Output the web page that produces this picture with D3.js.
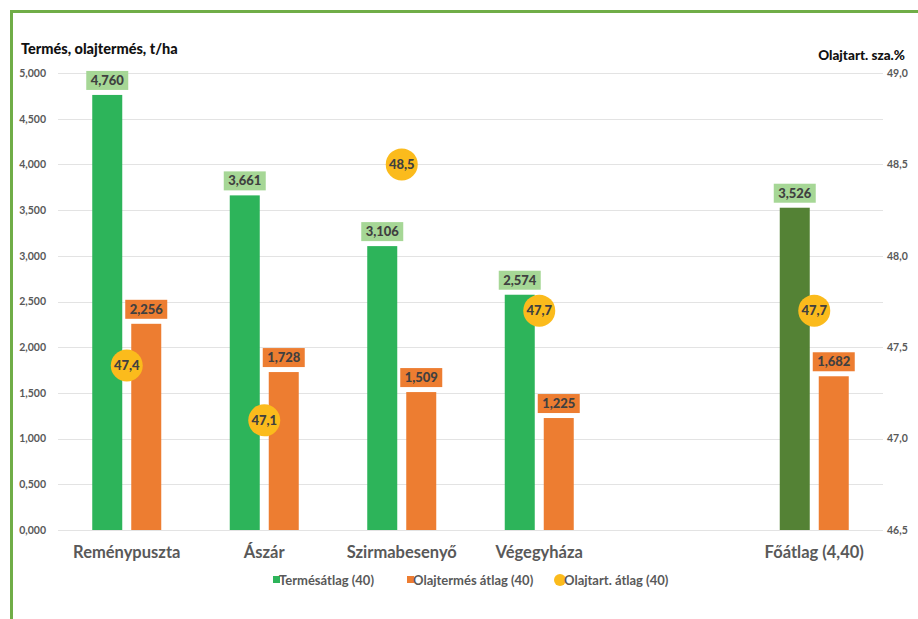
<!DOCTYPE html>
<html>
<head>
<meta charset="utf-8">
<script src="https://cdn.jsdelivr.net/npm/d3@7"></script>
<style>
  html, body { margin: 0; padding: 0; background: #fff; }
  svg { display: block; font-family: Lato, "Open Sans", sans-serif; }
</style>
</head>
<body>
<svg id="chart" width="918" height="619"></svg>
<script>
// Sites and the overall mean (an empty slot separates the mean from the sites)
const categories = ["Reménypuszta", "Ászár", "Szirmabesenyő", "Végegyháza", "Főátlag (4,40)"];
const slots = ["Reménypuszta", "Ászár", "Szirmabesenyő", "Végegyháza", "gap", "Főátlag (4,40)"];
// Seed yield, t/ha
const yieldAvg = [4.760, 3.661, 3.106, 2.574, 3.526];
// Oil yield, t/ha
const oilYieldAvg = [2.256, 1.728, 1.509, 1.225, 1.682];
// Oil content, %
const oilContentAvg = [47.4, 47.1, 48.5, 47.7, 47.7];

const leftTicks = [0, 0.5, 1, 1.5, 2, 2.5, 3, 3.5, 4, 4.5, 5];
const rightTicks = [46.5, 47.0, 47.5, 48.0, 48.5, 49.0];
const legendItems = ["Termésátlag (40)", "Olajtermés átlag (40)", "Olajtart. átlag (40)"];

const colGreen = "#2db45a", colGreenDark = "#548235", colOrange = "#ed7d31",
      colGold = "#fbbb1c", colLabelGreen = "#a6d796", textDark = "#404040", tickGrey = "#595959";

const svg = d3.select("#chart");
const plot = { left: 58, right: 883, top: 73, bottom: 530 };

const x = d3.scaleBand().domain(slots).range([plot.left, plot.right]);
const yL = d3.scaleLinear().domain([0, 5]).range([plot.bottom, plot.top]);
const yR = d3.scaleLinear().domain([46.5, 49]).range([plot.bottom, plot.top]);

const commaFmt = (d, p) => d.toFixed(p).replace(".", ",");
const thousandsFmt = d => d3.format(".3f")(d).replace(".", ",");

// frame
svg.append("path")
  .attr("d", "M11.5,619 L11.5,11.5 L918,11.5")
  .attr("fill", "none").attr("stroke", "#70ad47").attr("stroke-width", 3);

// gridlines
svg.append("g").selectAll("line").data(leftTicks).join("line")
  .attr("x1", plot.left).attr("x2", plot.right)
  .attr("y1", d => Math.round(yL(d)) + 0.5).attr("y2", d => Math.round(yL(d)) + 0.5)
  .attr("stroke", "#e3e3e3").attr("stroke-width", 1.2);

// left axis
const axL = d3.axisLeft(yL).tickValues(leftTicks).tickFormat(d => commaFmt(d, 3)).tickSize(0).tickPadding(12);
const gL = svg.append("g").attr("transform", `translate(${plot.left},0)`).call(axL);
gL.select(".domain").remove();
gL.selectAll("text").attr("font-size", 10.5).attr("font-weight", 700).attr("fill", tickGrey)
  .attr("font-family", "Lato, sans-serif");

// right axis
const axR = d3.axisRight(yR).tickValues(rightTicks).tickFormat(d => commaFmt(d, 1)).tickSize(0).tickPadding(4);
const gR = svg.append("g").attr("transform", `translate(${plot.right},0)`).call(axR);
gR.select(".domain").remove();
gR.selectAll("text").attr("font-size", 10.5).attr("font-weight", 700).attr("fill", tickGrey)
  .attr("font-family", "Lato, sans-serif");

// axis titles
svg.append("text").attr("x", 21).attr("y", 54).text("Termés, olajtermés, t/ha")
  .attr("font-size", 14.5).attr("font-weight", 900).attr("fill", "#111");
svg.append("text").attr("x", 905).attr("y", 60).attr("text-anchor", "end").text("Olajtart. sza.%")
  .attr("font-size", 13.5).attr("font-weight", 900).attr("fill", "#111");

// category labels
svg.append("g").selectAll("text").data(categories).join("text")
  .attr("x", d => x(d) + x.bandwidth() / 2).attr("y", 558)
  .attr("text-anchor", "middle").attr("font-size", 16.5).attr("font-weight", 700).attr("fill", tickGrey)
  .text(d => d);

const barW = 30, barOff = 19.5;
const rows = categories.map((c, i) => ({
  cat: c, yv: yieldAvg[i], ov: oilYieldAvg[i], oc: oilContentAvg[i], mean: i === categories.length - 1
}));
const cx = d => x(d.cat) + x.bandwidth() / 2;

// seed yield bars
svg.append("g").selectAll("rect").data(rows).join("rect")
  .attr("x", d => cx(d) - barOff - barW / 2).attr("width", barW)
  .attr("y", d => yL(d.yv)).attr("height", d => yL(0) - yL(d.yv))
  .attr("fill", d => d.mean ? colGreenDark : colGreen);

// oil yield bars
svg.append("g").selectAll("rect").data(rows).join("rect")
  .attr("x", d => cx(d) + barOff - barW / 2).attr("width", barW)
  .attr("y", d => yL(d.ov)).attr("height", d => yL(0) - yL(d.ov))
  .attr("fill", colOrange);

// value boxes
function valueLabels(getX, getV, fill) {
  const g = svg.append("g").selectAll("g").data(rows).join("g")
    .attr("transform", d => `translate(${getX(d)},${yL(getV(d)) - 5})`);
  g.append("rect").attr("x", -21).attr("y", -19).attr("width", 42).attr("height", 19).attr("fill", fill);
  g.append("text").attr("y", -5).attr("text-anchor", "middle").attr("font-size", 13)
    .attr("font-weight", 900).attr("fill", textDark).text(d => thousandsFmt(getV(d)));
}
valueLabels(d => cx(d) - barOff, d => d.yv, colLabelGreen);
valueLabels(d => cx(d) + barOff, d => d.ov, colOrange);

// oil content points
const dots = svg.append("g").selectAll("g").data(rows).join("g")
  .attr("transform", d => `translate(${cx(d)},${yR(d.oc)})`);
dots.append("circle").attr("r", 16).attr("fill", colGold);
dots.append("text").attr("y", 4.5).attr("text-anchor", "middle").attr("font-size", 13)
  .attr("font-weight", 900).attr("fill", textDark).text(d => commaFmt(d.oc, 1));

// legend
const legX = [273, 407, 557];
const lg = svg.append("g").selectAll("g").data(legendItems).join("g")
  .attr("transform", (d, i) => `translate(${legX[i]},580)`);
lg.each(function (d, i) {
  const s = d3.select(this);
  if (i < 2) s.append("rect").attr("x", 0).attr("y", -4).attr("width", 7).attr("height", 7)
    .attr("fill", i === 0 ? colGreen : colOrange);
  else s.append("circle").attr("cx", 3).attr("cy", 0).attr("r", 6).attr("fill", colGold);
});
lg.append("text").attr("x", (d, i) => i < 2 ? 6 : 7).attr("y", 4.5).attr("font-size", 13)
  .attr("font-weight", 700).attr("fill", tickGrey).text(d => d);
</script>
</body>
</html>
